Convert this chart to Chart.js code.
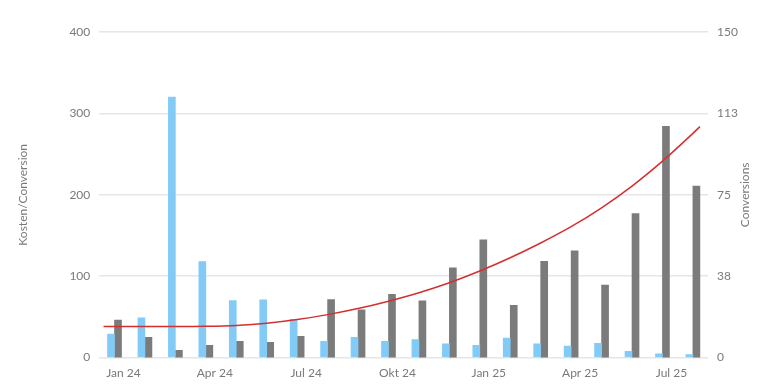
<!DOCTYPE html>
<html>
<head>
<meta charset="utf-8">
<script src="https://cdn.jsdelivr.net/npm/chart.js@4"></script>
<style>
  html, body { margin: 0; padding: 0; background: #fff; }
  #wrap { width: 768px; height: 388px; }
</style>
</head>
<body>
<div id="wrap"><canvas id="chart"></canvas></div>
<script>
const months = ["Jan 24", "Feb 24", "Mär 24", "Apr 24", "Mai 24", "Jun 24", "Jul 24", "Aug 24", "Sep 24", "Okt 24",
  "Nov 24", "Dez 24", "Jan 25", "Feb 25", "Mär 25", "Apr 25", "Mai 25", "Jun 25", "Jul 25", "Aug 25"];
const shownLabels = ["Jan 24", "Apr 24", "Jul 24", "Okt 24", "Jan 25", "Apr 25", "Jul 25"];

// Kosten/Conversion (left axis)
const costPerConversion = [29, 49, 320, 118, 70, 71, 47, 20, 25, 20, 22, 17, 15, 24, 17, 14, 17.5, 7.7, 4.5, 3.7];
// Conversions (right axis)
const conversions = [17.3, 9.3, 3.4, 5.7, 7.5, 7, 9.8, 26.7, 22, 29.1, 26.2, 41.3, 54.2, 24.1, 44.3, 49.2, 33.4, 66.3, 106.6, 79];
// trend of conversions, x in month index (runs a little past first/last month)
const trendX = [-0.36, 0, 1, 2, 3, 4, 5, 6, 7, 8, 9, 10, 11, 12, 13, 14, 15, 16, 17, 18, 19, 19.23];
const trendY = [14.3, 14.3, 14.3, 14.3, 14.4, 14.8, 15.8, 17.5, 19.8, 22.6, 26.0, 29.9, 34.5, 39.9, 46.0, 52.8, 60.3, 69.0, 79.0, 90.5, 103.3, 106.4];

const leftTicks = [0, 100, 200, 300, 400];
const rightTicks = [0, 37.5, 75, 112.5, 150];

const font = { family: "Lato, 'Open Sans', sans-serif", size: 12 };
const tickColor = "#7a7a7a";

// right axis title, reading bottom-to-top like the left one
const rightTitle = {
  id: "rightTitle",
  afterDraw(chart) {
    const { ctx, chartArea, scales } = chart;
    ctx.save();
    ctx.translate(scales.y1.right - 2, (chartArea.top + chartArea.bottom) / 2);
    ctx.rotate(-Math.PI / 2);
    ctx.font = "12px " + font.family;
    ctx.fillStyle = tickColor;
    ctx.textAlign = "center";
    ctx.textBaseline = "middle";
    ctx.fillText("Conversions", 0, 0);
    ctx.restore();
  },
};

new Chart(document.getElementById("chart"), {
  type: "bar",
  data: {
    labels: months,
    datasets: [
      {
        type: "line",
        label: "Trend",
        data: trendX.map((x, i) => ({ x: x, y: trendY[i] })),
        xAxisID: "xt",
        yAxisID: "y1",
        borderColor: "#d32f2f",
        borderWidth: 1.5,
        pointRadius: 0,
        cubicInterpolationMode: "monotone",
        fill: false,
        order: 0,
      },
      {
        label: "Kosten/Conversion",
        data: costPerConversion,
        xAxisID: "x",
        yAxisID: "y",
        backgroundColor: "#82cbf6",
        barThickness: 7,
        order: 1,
      },
      {
        label: "Conversions",
        data: conversions,
        xAxisID: "x",
        yAxisID: "y1",
        backgroundColor: "#7b7b7b",
        barThickness: 7,
        order: 1,
      },
    ],
  },
  options: {
    responsive: true,
    maintainAspectRatio: false,
    animation: false,
    layout: { padding: { top: 32, left: 16, right: 21, bottom: 0 } },
    plugins: {
      legend: { display: false },
      tooltip: { enabled: false },
    },
    scales: {
      x: {
        grid: { display: false, drawTicks: false },
        border: { display: false },
        ticks: {
          color: tickColor,
          font: font,
          autoSkip: false,
          maxRotation: 0,
          padding: 8,
          labelOffset: 9,
          callback: function (value) {
            const l = months[value];
            return shownLabels.includes(l) ? l : "";
          },
        },
      },
      xt: {
        type: "linear",
        display: false,
        offset: false,
        min: -0.5,
        max: months.length - 0.5,
      },
      y: {
        position: "left",
        min: leftTicks[0],
        max: leftTicks[leftTicks.length - 1],
        afterBuildTicks: (axis) => { axis.ticks = leftTicks.map((v) => ({ value: v })); },
        grid: { color: "#e6e6e6", lineWidth: 1.5, drawTicks: false },
        border: { display: false },
        ticks: { color: tickColor, font: font, padding: 9 },
        title: { display: true, text: "Kosten/Conversion", color: tickColor, font: font, padding: { top: 0, bottom: 30 } },
      },
      y1: {
        position: "right",
        min: rightTicks[0],
        max: rightTicks[rightTicks.length - 1],
        afterBuildTicks: (axis) => { axis.ticks = rightTicks.map((v) => ({ value: v })); },
        grid: { display: false, drawTicks: false },
        border: { display: false },
        ticks: {
          color: tickColor,
          font: font,
          padding: 9,
          callback: (v) => Math.round(v),
        },
      },
    },
  },
  plugins: [rightTitle],
});
</script>
</body>
</html>
